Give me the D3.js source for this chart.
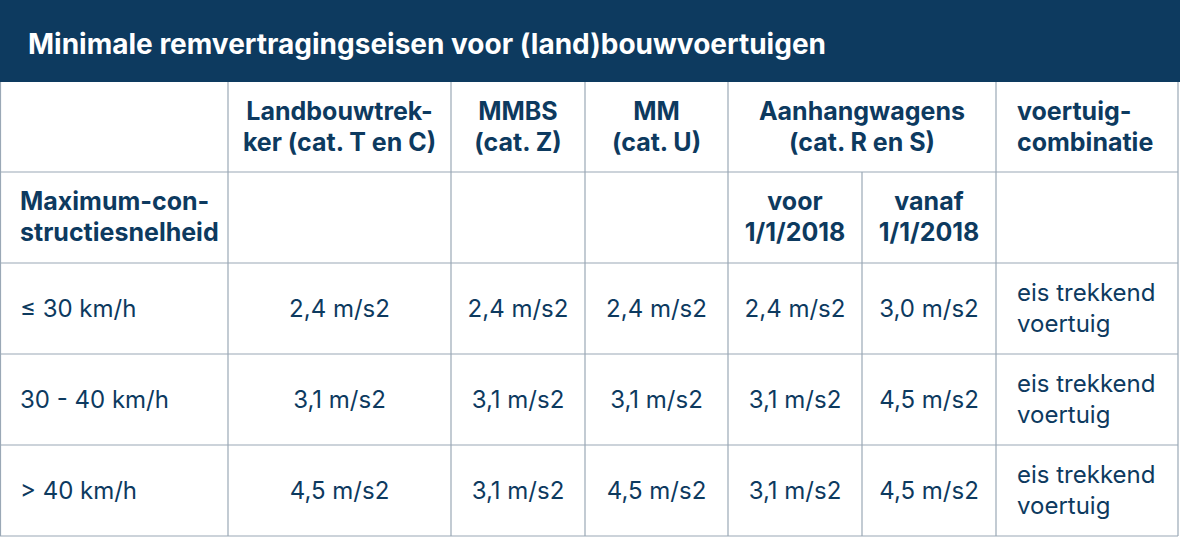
<!DOCTYPE html>
<html><head><meta charset="utf-8">
<script src="https://cdn.jsdelivr.net/npm/d3@7"></script>
<style>body{margin:0;background:#fff}</style>
</head><body>
<script>
const title = 'Minimale remvertragingseisen voor (land)bouwvoertuigen'
const speeds = ['≤ 30 km/h', '30 - 40 km/h', '> 40 km/h']
const trekker = ['2,4 m/s2', '3,1 m/s2', '4,5 m/s2']
const mmbs = ['2,4 m/s2', '3,1 m/s2', '3,1 m/s2']
const mm = ['2,4 m/s2', '3,1 m/s2', '4,5 m/s2']
const voor2018 = ['2,4 m/s2', '3,1 m/s2', '3,1 m/s2']
const vanaf2018 = ['3,0 m/s2', '4,5 m/s2', '4,5 m/s2']
const combinatie = ['eis trekkend\nvoertuig', 'eis trekkend\nvoertuig', 'eis trekkend\nvoertuig']

const W = 1180, H = 540
const navy = '#0d3a5f', line = '#9aa8b6'
const edges = [0, 228, 451, 585, 728, 862, 996, 1178]
const rowEdges = [82, 172, 263, 354, 445, 536]
const fontF = 'Inter, "Noto Sans", sans-serif'

const svg = d3.select('body').append('svg').attr('width', W).attr('height', H)

svg.append('rect').attr('x', 0).attr('y', 0).attr('width', 1180).attr('height', 82).attr('fill', navy)
svg.append('text').attr('x', 28).attr('y', 54).text(title)
  .attr('fill', '#fff').attr('font-family', fontF).attr('font-weight', 700).attr('font-size', 28)

const g = svg.append('g').attr('stroke', line).attr('stroke-width', 1.2)
// horizontal lines
rowEdges.slice(1).forEach(y => g.append('line').attr('x1', 0).attr('x2', 1178).attr('y1', y).attr('y2', y))
g.append('line').attr('x1', 0.5).attr('x2', 0.5).attr('y1', 82).attr('y2', 536)
g.append('line').attr('x1', 1178).attr('x2', 1178).attr('y1', 82).attr('y2', 536)
// vertical lines (skip 862 in first header row)
edges.slice(1, -1).forEach(x => {
  g.append('line').attr('x1', x).attr('x2', x).attr('y1', x === 862 ? 172 : 82).attr('y2', 536)
})

function cellText(x, yc, str, anchor, weight, size) {
  const lines = str.split('\n')
  const lh = 31
  const t = svg.append('text').attr('fill', navy).attr('font-family', fontF)
    .attr('font-size', size).attr('font-weight', weight).attr('text-anchor', anchor)
  lines.forEach((l, i) => {
    t.append('tspan').attr('x', x).attr('y', yc + (i - (lines.length - 1) / 2) * lh + 8).text(l)
  })
}
const center = i => (edges[i] + edges[i + 1]) / 2
const rc = i => (rowEdges[i] + rowEdges[i + 1]) / 2

// header row 1
cellText(center(1), rc(0), 'Landbouwtrek-\nker (cat. T en C)', 'middle', 700, 25)
cellText(center(2), rc(0), 'MMBS\n(cat. Z)', 'middle', 700, 25)
cellText(center(3), rc(0), 'MM\n(cat. U)', 'middle', 700, 25)
cellText((edges[4] + edges[6]) / 2, rc(0), 'Aanhangwagens\n(cat. R en S)', 'middle', 700, 25)
cellText(1017, rc(0), 'voertuig-\ncombinatie', 'start', 700, 25)
// header row 2
cellText(20, rc(1), 'Maximum-con-\nstructiesnelheid', 'start', 700, 25)
cellText(center(4), rc(1), 'voor\n1/1/2018', 'middle', 700, 25)
cellText(center(5), rc(1), 'vanaf\n1/1/2018', 'middle', 700, 25)

// body
const cols = [trekker, mmbs, mm, voor2018, vanaf2018]
speeds.forEach((s, r) => {
  const y = rc(r + 2)
  cellText(20, y, s, 'start', 400, 24)
  cols.forEach((c, ci) => cellText(center(ci + 1), y, c[r], 'middle', 400, 24))
  cellText(1017, y, combinatie[r], 'start', 400, 24)
})
</script>
</body></html>
